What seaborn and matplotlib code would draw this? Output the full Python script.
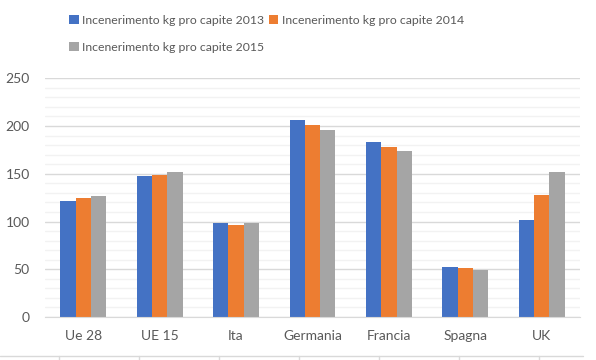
import pandas as pd
import seaborn as sns
import matplotlib.pyplot as plt
from matplotlib.ticker import MultipleLocator
from matplotlib.lines import Line2D

# Dati
paesi = ["Ue 28", "UE 15", "Ita", "Germania", "Francia", "Spagna", "UK"]
anni = ["Incenerimento kg pro capite 2013",
        "Incenerimento kg pro capite 2014",
        "Incenerimento kg pro capite 2015"]
val_2013 = [121.5, 147.7, 98.5, 206.4, 183.3, 52.4, 101.6]
val_2014 = [125.0, 149.0, 96.4, 201.1, 178.0, 51.3, 127.8]
val_2015 = [127.0, 151.9, 98.5, 195.9, 173.9, 49.2, 151.9]

colori = ["#4472C4", "#ED7D31", "#A5A5A5"]

df = pd.DataFrame({
    "paese": paesi * 3,
    "serie": [anni[0]] * 7 + [anni[1]] * 7 + [anni[2]] * 7,
    "valore": val_2013 + val_2014 + val_2015,
})

sns.set_style("white")
plt.rcParams["font.family"] = ["Lato", "DejaVu Sans"]
testo = "#595959"

fig = plt.figure(figsize=(5.96, 3.6), dpi=100)
ax = fig.add_axes([0.0755, 0.1194, 0.8975, 0.6631])

sns.barplot(data=df, x="paese", y="valore", hue="serie", palette=colori,
            width=0.6, saturation=1, linewidth=0, ax=ax, legend=True)

ax.set_ylim(0, 250)
ax.yaxis.set_major_locator(MultipleLocator(50))
ax.yaxis.set_minor_locator(MultipleLocator(10))
ax.grid(axis="y", which="major", color="#D9D9D9", linewidth=1)
ax.grid(axis="y", which="minor", color="#F2F2F2", linewidth=1)
ax.set_axisbelow(True)
for s in ["top", "right", "left"]:
    ax.spines[s].set_visible(False)
ax.spines["bottom"].set_color("#D9D9D9")
ax.tick_params(axis="both", which="both", length=0, colors=testo, labelsize=10)
ax.tick_params(axis="x", pad=9)
ax.tick_params(axis="y", pad=11)
ax.set_xlabel("")
ax.set_ylabel("")

# Legenda in alto (ordine per righe)
handles, labels = ax.get_legend_handles_labels()
ax.get_legend().remove()
ordine = [0, 2, 1]
leg = fig.legend([handles[i] for i in ordine], [labels[i] for i in ordine],
                 ncol=2, loc="upper left",
                 bbox_to_anchor=(0.098, 0.99), frameon=False,
                 fontsize=8.8, handlelength=0.75, handleheight=0.75,
                 handletextpad=0.3, columnspacing=0.4, labelspacing=1.35)
for t in leg.get_texts():
    t.set_color(testo)

# Bordo inferiore (griglia del foglio)
fig.add_artist(Line2D([0, 583 / 596], [4 / 360, 4 / 360], color="#D9D9D9",
                      linewidth=1, transform=fig.transFigure))
for px in [59, 139, 219, 299, 379, 459, 539]:
    fig.add_artist(Line2D([px / 596, px / 596], [0, 4 / 360], color="#D9D9D9",
                          linewidth=1, transform=fig.transFigure))

plt.savefig("out.png", dpi=100)
